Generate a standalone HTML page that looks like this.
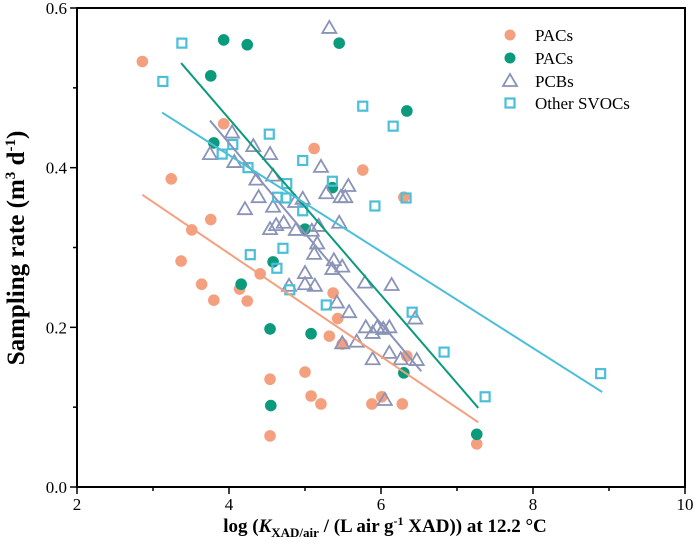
<!DOCTYPE html>
<html><head><meta charset="utf-8"><style>
html,body{margin:0;padding:0;background:#fff;width:695px;height:554px;overflow:hidden}
svg{display:block;font-family:"Liberation Serif",serif}
</style></head><body>
<svg id="chart" width="695" height="554" xmlns="http://www.w3.org/2000/svg"></svg>
<script>
const xTicks=[2,4,6,8,10];
const xMinor=[3,5,7,9];
const yTicks=[0,0.2,0.4,0.6];
const yTickLabels=["0.0","0.2","0.4","0.6"];
const yMinor=[0.1,0.3,0.5];
const pac1X=[2.86,3.24,3.76,3.51,3.93,5.12,5.76,6.30,3.37,3.64,3.80,4.14,4.24,4.41,5.37,5.43,5.32,5.49,4.54,5.00,5.08,5.21,4.54,5.88,6.01,6.28,6.34,7.26];
const pac1Y=[0.533,0.386,0.335,0.322,0.455,0.424,0.397,0.363,0.283,0.254,0.234,0.248,0.233,0.267,0.243,0.211,0.189,0.179,0.135,0.144,0.114,0.104,0.064,0.104,0.113,0.104,0.164,0.054];
const pac2X=[3.93,4.24,5.45,3.76,6.34,3.80,5.36,5.00,4.58,4.16,4.54,5.08,6.30,4.55,7.26];
const pac2Y=[0.560,0.554,0.556,0.515,0.471,0.431,0.375,0.323,0.282,0.254,0.198,0.192,0.143,0.102,0.066];
const pcbX=[5.32,4.04,3.75,4.32,4.54,4.07,5.21,4.58,4.36,5.57,5.28,5.47,5.53,4.39,4.87,4.97,4.58,4.21,4.72,4.62,4.54,5.45,5.18,4.88,5.09,5.16,5.12,5.38,5.49,5.36,5.00,5.00,5.13,4.79,5.79,6.14,5.42,5.58,5.80,5.95,6.11,5.89,5.68,5.49,5.89,6.11,6.26,6.47,6.05,6.45,6.03];
const pcbY=[0.575,0.444,0.417,0.427,0.417,0.407,0.401,0.390,0.385,0.377,0.368,0.363,0.363,0.363,0.357,0.361,0.351,0.348,0.331,0.328,0.323,0.331,0.327,0.322,0.321,0.305,0.292,0.284,0.276,0.273,0.268,0.254,0.252,0.252,0.256,0.253,0.231,0.219,0.200,0.200,0.200,0.193,0.182,0.180,0.160,0.168,0.160,0.159,0.109,0.211,0.198];
const svocX=[3.38,3.13,5.76,6.16,4.53,4.05,3.91,4.25,4.97,5.36,4.76,4.64,4.75,4.97,5.92,6.33,4.71,4.28,4.63,4.80,5.28,6.41,6.83,7.37,8.89];
const svocY=[0.556,0.508,0.477,0.452,0.442,0.429,0.417,0.400,0.409,0.383,0.380,0.363,0.362,0.346,0.352,0.362,0.299,0.291,0.274,0.247,0.228,0.219,0.169,0.113,0.142];
const fitPac1=[[2.86,0.366],[7.28,0.081]];
const fitPac2=[[3.37,0.531],[7.28,0.099]];
const fitPcb=[[3.75,0.459],[6.53,0.145]];
const fitSvoc=[[3.12,0.469],[8.91,0.119]];

const L=77,R=685,T=8,B=487;
const xs=v=>L+(v-2)/8*(R-L);
const ys=v=>B-v/0.6*(B-T);
const NS="http://www.w3.org/2000/svg";
const svg=document.getElementById('chart');
function mk(tag,attrs,parent){const e=document.createElementNS(NS,tag);for(const k in attrs)e.setAttribute(k,attrs[k]);(parent||svg).appendChild(e);return e;}
const C1="#f4a07f",C2="#0b9a7c",C3="#8a93b8",C4="#4bbfd8";

const gP1=mk('g',{});
pac1X.forEach((x,i)=>{const c=mk('circle',{cx:xs(x),cy:ys(pac1Y[i]),r:5.8,fill:C1},gP1);

});
const gP2=mk('g',{});
pac2X.forEach((x,i)=>{const c=mk('circle',{cx:xs(x),cy:ys(pac2Y[i]),r:5.8,fill:C2},gP2);

});
const gP3=mk('g',{});
pcbX.forEach((x,i)=>{const cx=xs(x),cy=ys(pcbY[i]);const p=mk('polygon',{points:`${cx-7},${cy+5} ${cx+7},${cy+5} ${cx},${cy-7}`,fill:'none',stroke:C3,'stroke-width':1.8},gP3);

});
const gP4=mk('g',{});
svocX.forEach((x,i)=>{const cx=xs(x),cy=ys(svocY[i]);const p=mk('rect',{x:cx-4.5,y:cy-4.5,width:9,height:9,fill:'none',stroke:C4,'stroke-width':2.2},gP4);

});

[[fitPac1,C1,'pacs-orange-fit-line'],[fitPac2,C2,'pacs-green-fit-line'],[fitPcb,C3,'pcbs-fit-line'],[fitSvoc,C4,'other-svocs-fit-line']].forEach(([f,c,n])=>{
const l=mk('line',{x1:xs(f[0][0]),y1:ys(f[0][1]),x2:xs(f[1][0]),y2:ys(f[1][1]),stroke:c,'stroke-width':2});

});

const frame=mk('rect',{x:L,y:T,width:R-L,height:B-T,fill:'none',stroke:'#000','stroke-width':2});



xTicks.forEach(v=>{mk('line',{x1:xs(v),y1:B,x2:xs(v),y2:B+7,stroke:'#000','stroke-width':1.5});
const t=mk('text',{x:xs(v),y:B+23,'text-anchor':'middle','font-size':17});t.textContent=v;

});
xMinor.forEach(v=>mk('line',{x1:xs(v),y1:B,x2:xs(v),y2:B+4,stroke:'#000','stroke-width':1.5}));
yTicks.forEach((v,i)=>{mk('line',{x1:L-7,y1:ys(v),x2:L,y2:ys(v),stroke:'#000','stroke-width':1.5});
const t=mk('text',{x:L-10,y:ys(v)+6,'text-anchor':'end','font-size':17});t.textContent=yTickLabels[i];

});
yMinor.forEach(v=>mk('line',{x1:L-4,y1:ys(v),x2:L,y2:ys(v),stroke:'#000','stroke-width':1.5}));

const yt=mk('text',{x:0,y:0,transform:'translate(24,248) rotate(-90)','text-anchor':'middle','font-size':25,'font-weight':'bold'});
yt.innerHTML='Sampling rate (m<tspan dy="-9" font-size="15">3</tspan><tspan dy="9"> d</tspan><tspan dy="-9" font-size="15">-1</tspan><tspan dy="9">)</tspan>';


const xt=mk('text',{x:385,y:532,'text-anchor':'middle','font-size':19,'font-weight':'bold'});
xt.setAttribute('xml:space','preserve');
xt.innerHTML='log (<tspan font-style="italic">K</tspan><tspan dy="5" font-size="13">XAD/air</tspan><tspan dy="-5"> / (L air g</tspan><tspan dy="-7" font-size="12">-1</tspan><tspan dy="7"> XAD))  at 12.2 °C</tspan>';



const lg=mk('g',{});
const labels=['PACs','PACs','PCBs','Other SVOCs'];const ly=[35,58,81,103];
labels.forEach((s,i)=>{const y=ly[i],x=510;
if(i<2)mk('circle',{cx:x,cy:y,r:5.5,fill:i?C2:C1},lg);
else if(i==2)mk('polygon',{points:`${x-7},${y+5} ${x+7},${y+5} ${x},${y-7}`,fill:'none',stroke:C3,'stroke-width':1.8},lg);
else mk('rect',{x:x-4.5,y:y-4.5,width:9,height:9,fill:'none',stroke:C4,'stroke-width':2.2},lg);
const t=mk('text',{x:535,y:y+6,'font-size':17},lg);t.textContent=s;

});
</script>
</body></html>
